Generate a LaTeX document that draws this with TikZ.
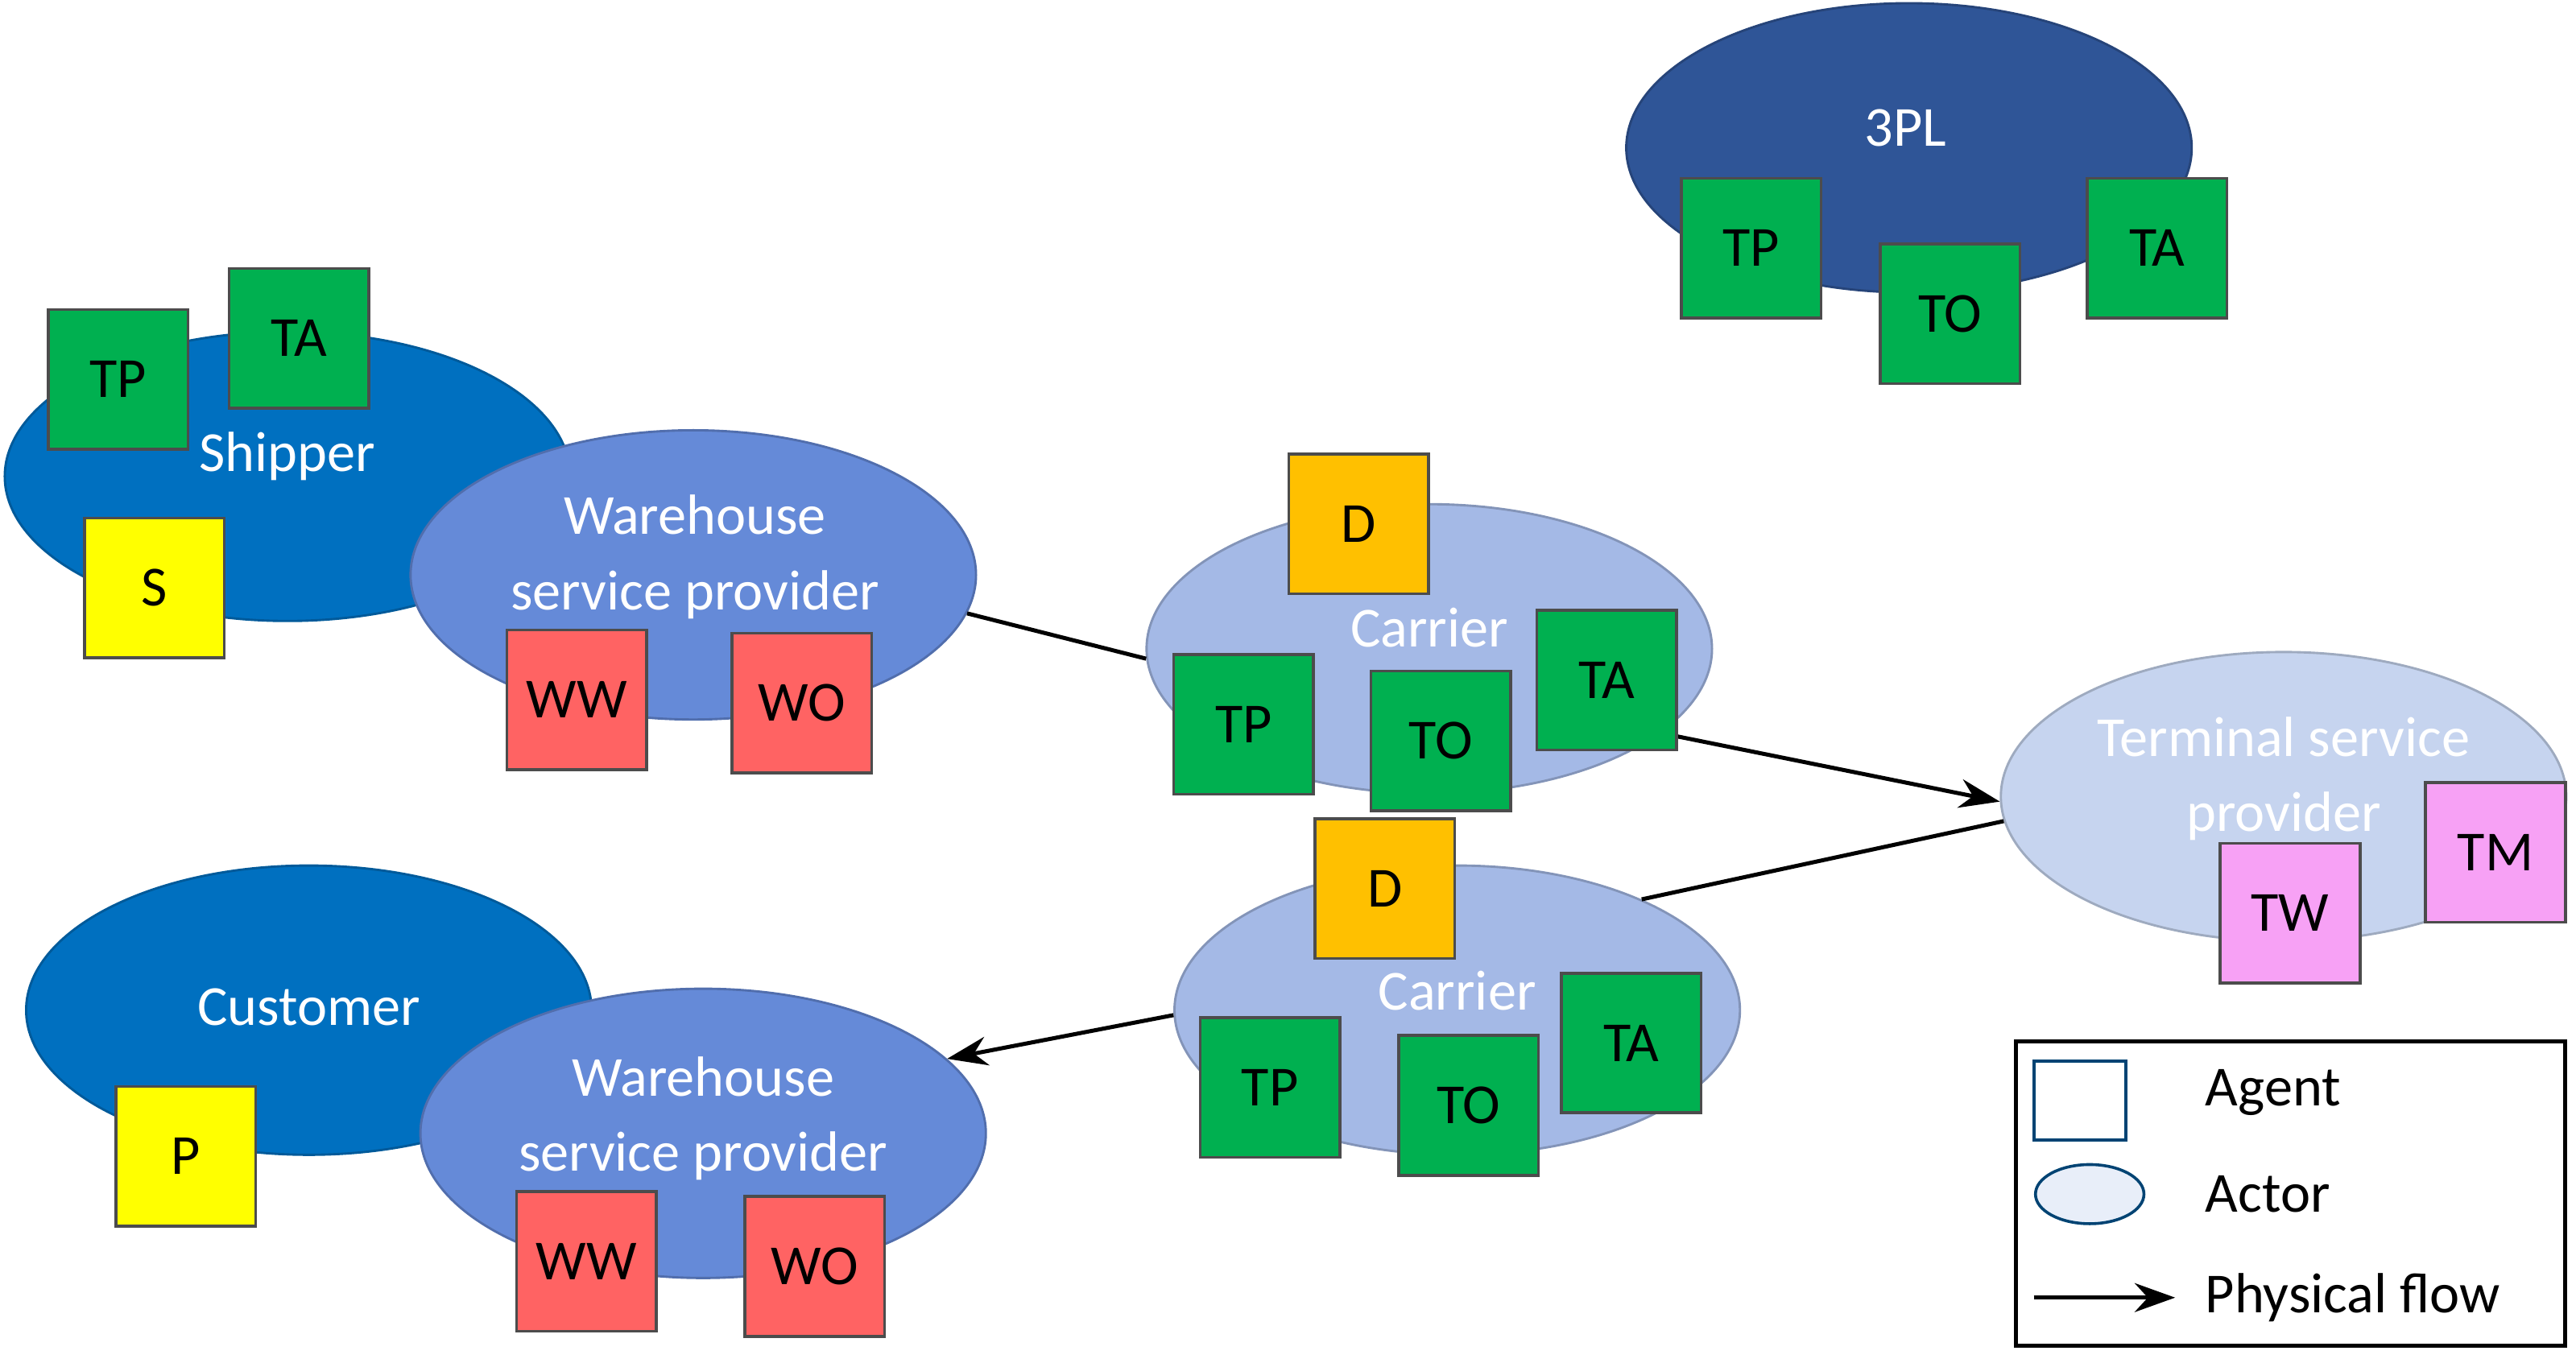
\documentclass[tikz,border=0pt]{standalone}
\usepackage{fontspec}
\setmainfont{Carlito}
\usetikzlibrary{shapes.geometric,arrows.meta}
\definecolor{dkb}{HTML}{2F5597}
\definecolor{mdb}{HTML}{0070C0}
\definecolor{whb}{HTML}{658AD8}
\definecolor{crb}{HTML}{A4B9E6}
\definecolor{tmb}{HTML}{C6D4EF}
\definecolor{agG}{HTML}{00B050}
\definecolor{agR}{HTML}{FF6363}
\definecolor{agY}{HTML}{FFFF00}
\definecolor{agO}{HTML}{FFC000}
\definecolor{agP}{HTML}{F7A1F5}
\begin{document}
\begin{tikzpicture}[x=0.01cm,y=-0.01cm,font=\fontsize{9.8}{11}\selectfont,
 act/.style={ellipse,draw=#1!80!black,fill=#1,line width=0.4pt,inner sep=0pt,minimum width=3.44cm,minimum height=1.76cm},
 ag/.style={rectangle,draw=gray!60!black,line width=0.5pt,fill=#1,minimum size=0.85cm,inner sep=0pt,anchor=center},
 lab/.style={text=white,align=center},
 flow/.style={line width=0.7pt,black},
 arr/.style={flow,-{Stealth[length=7pt,width=5pt]}}]
\useasboundingbox (0,0) rectangle (1568,827);
% actors
\node[act=dkb] (pl) at (1162,90) {};
\node[act=mdb] (sh) at (175,290) {};
\node[act=whb] (wh1) at (422,350) {};
\node[act=crb] (c1) at (870,395) {};
\node[act=tmb] (tr) at (1390,485) {};
\node[act=crb] (c2) at (887,615) {};
\node[act=mdb] (cu) at (188,615) {};
\node[act=whb] (wh2) at (428,690) {};
% flows
\draw[flow] (wh1.-8) -- (c1.182);
\draw[arr] (c1.-20) -- (tr.181);
\draw[flow] (tr.185) -- (c2.31);
\draw[arr] (c2.181) -- (wh2.17);
% labels
\node[lab] at (1160,78) {3PL};
\node[lab] at (175,278) {Shipper};
\node[lab] at (423,339) {Warehouse\\[2pt]service provider};
\node[lab] at (870,382) {Carrier};
\node[lab] at (1390,474) {Terminal service\\[2pt]provider};
\node[lab] at (887,603) {Carrier};
\node[lab] at (188,613) {Customer};
\node[lab] at (428,681) {Warehouse\\[2pt]service provider};
% agents
\node[ag=agG] (a1) at (1066,151) {TP};
\node[ag=agG] (a2) at (1187,191) {TO};
\node[ag=agG] (a3) at (1313,151) {TA};
\node[ag=agG] (a4) at (72,231) {TP};
\node[ag=agG] (a5) at (182,206) {TA};
\node[ag=agY] (a6) at (94,358) {S};
\node[ag=agR] (a7) at (351,426) {WW};
\node[ag=agR] (a8) at (488,428) {WO};
\node[ag=agO] (a9) at (827,319) {D};
\node[ag=agG] (a10) at (757,441) {TP};
\node[ag=agG] (a11) at (877,451) {TO};
\node[ag=agG] (a12) at (978,414) {TA};
\node[ag=agP] (a13) at (1394,556) {TW};
\node[ag=agP] (a14) at (1519,519) {TM};
\node[ag=agO] (a15) at (843,541) {D};
\node[ag=agG] (a16) at (773,662) {TP};
\node[ag=agG] (a17) at (894,673) {TO};
\node[ag=agG] (a18) at (993,635) {TA};
\node[ag=agY] (a19) at (113,704) {P};
\node[ag=agR] (a20) at (357,768) {WW};
\node[ag=agR] (a21) at (496,771) {WO};
% legend
\node[draw,line width=0.7pt,minimum width=3.34cm,minimum height=1.85cm,anchor=north west,inner sep=0pt] (lg) at (1226,633) {};
\node[draw=mdb!60!black,line width=0.5pt,minimum width=0.56cm,minimum height=0.48cm,inner sep=0pt] (lga) at (1266,670) {};
\node[ellipse,draw=mdb!60!black,fill=tmb!40,line width=0.5pt,minimum width=0.66cm,minimum height=0.36cm,inner sep=0pt] (lge) at (1272,727) {};
\coordinate (la1) at (1238,790);
\coordinate (la2) at (1324,790);
\draw[arr] (la1) -- (la2);
\node[anchor=west] at (1330,665) {Agent};
\node[anchor=west] at (1330,727) {Actor};
\node[anchor=west] at (1330,790) {Physical flow};
\end{tikzpicture}
\end{document}
